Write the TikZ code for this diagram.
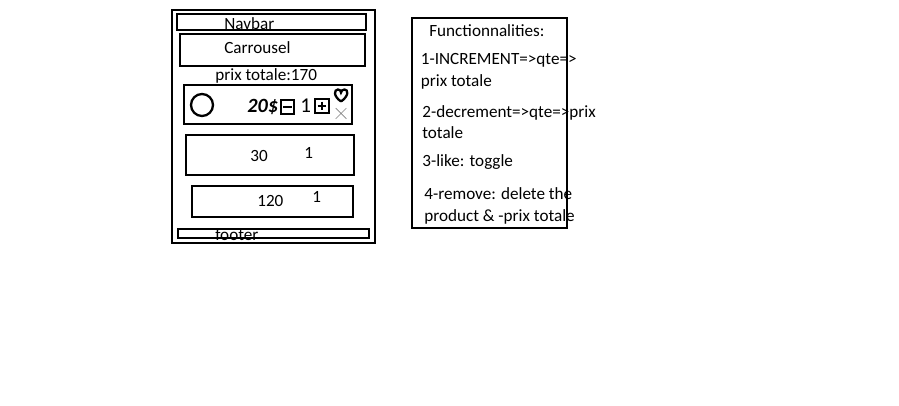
\documentclass[tikz,border=0pt]{standalone}
\usepackage{fontspec}
\setmainfont{Carlito}
\usetikzlibrary{shapes.misc,calc}

\begin{document}
\begin{tikzpicture}[
  every node/.style={font=\fontsize{9.75}{11}\selectfont},
  box/.style={draw, line width=1.7pt, inner sep=0pt},
  btn/.style={draw, line width=1.3pt, inner sep=0pt, minimum size=0.27cm},
  lbl/.style={inner sep=0pt, anchor=base west},
  sign/.style={line width=1pt, shorten >=2pt, shorten <=2pt},
]
\useasboundingbox (0,0) rectangle (17.98,-8.12);
% texts that the frames cross come first
\node[lbl] (navtxt) at (4.48,-0.59) {Navbar};
\node[lbl] (foottxt) at (4.30,-4.82) {footer};
% page
\node[box, minimum width=4.06cm, minimum height=4.66cm] (page) at (5.47,-2.53) {};
\node[box, minimum width=3.78cm, minimum height=0.32cm] (navbar) at (5.43,-0.44) {};
\node[box, minimum width=3.70cm, minimum height=0.64cm] (carrousel) at (5.45,-1.00) {};
\node[box, minimum width=3.36cm, minimum height=0.78cm] (itemA) at (5.36,-2.09) {};
\node[box, minimum width=3.36cm, minimum height=0.80cm] (itemB) at (5.40,-3.10) {};
\node[box, minimum width=3.22cm, minimum height=0.62cm] (itemC) at (5.45,-4.03) {};
\node[box, minimum width=3.82cm, minimum height=0.18cm] (footer) at (5.47,-4.67) {};
\node[lbl] (cartxt) at (4.48,-1.08) {Carrousel};
\node[lbl] (total) at (4.30,-1.62) {prix totale:170};
% first product
\node[draw, circle, line width=1.3pt, inner sep=0pt, minimum size=0.44cm] (photo) at (4.04,-2.10) {};
\node[lbl, font=\fontsize{11.5}{12}\selectfont\bfseries\itshape] (price) at (4.94,-2.26) {20\$};
\node[btn] (minus) at (5.75,-2.14) {};
\draw[sign] (minus.west) -- (minus.east);
\node[lbl, font=\fontsize{12}{12}\selectfont] (qte) at (6.00,-2.26) {1};
\node[btn] (plus) at (6.44,-2.12) {};
\draw[sign] (plus.west) -- (plus.east);
\draw[sign] (plus.north) -- (plus.south);
\draw[line width=1.3pt] (6.82,-2.03) .. controls (6.66,-1.92) and (6.68,-1.79) .. (6.76,-1.79)
  .. controls (6.80,-1.79) and (6.82,-1.82) .. (6.82,-1.85)
  .. controls (6.82,-1.82) and (6.85,-1.79) .. (6.89,-1.79)
  .. controls (6.97,-1.79) and (6.98,-1.92) .. (6.82,-2.03);
\node[draw, cross out, gray, thin, inner sep=0pt, minimum size=0.2cm] (remove) at (6.82,-2.27) {};
% other products
\node[lbl] (priceB) at (5.00,-3.24) {30};
\node[lbl] (qteB) at (6.08,-3.18) {1};
\node[lbl] (priceC) at (5.14,-4.14) {120};
\node[lbl] (qteC) at (6.24,-4.06) {1};
% functionnalities
\node[box, minimum width=3.10cm, minimum height=4.20cm] (func) at (9.79,-2.46) {};
\node[lbl] (title) at (8.58,-0.74) {Functionnalities:};
\node[lbl] (incA) at (8.41,-1.29) {1-INCREMENT=>qte=>};
\node[lbl] (incB) at (8.41,-1.73) {prix totale};
\node[lbl] (decA) at (8.44,-2.35) {2-decrement=>qte=>prix};
\node[lbl] (decB) at (8.44,-2.77) {totale};
\node[lbl] (like) at (8.44,-3.33) {3-like: toggle};
\node[lbl] (remA) at (8.48,-3.99) {4-remove: delete the};
\node[lbl] (remB) at (8.48,-4.44) {product \& -prix totale};
\end{tikzpicture}
\end{document}
